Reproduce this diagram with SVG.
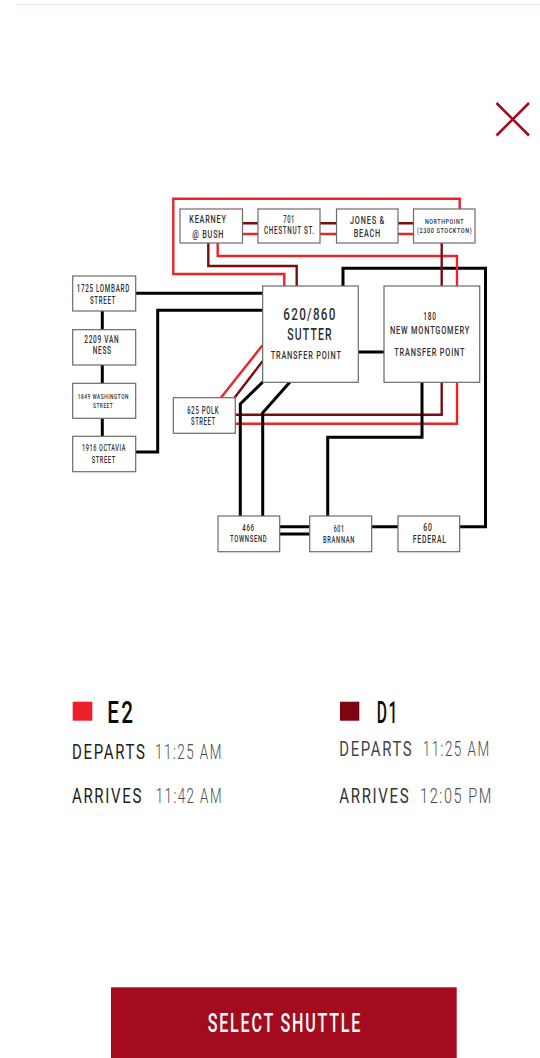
<svg xmlns="http://www.w3.org/2000/svg" width="540" height="1058" viewBox="0 0 540 1058">
<style>
text{font-family:Roboto,"Liberation Sans",sans-serif;letter-spacing:.11em}
.box{fill:#fff;stroke:#6b6b6b;stroke-width:1.2}
.n{font-weight:500;fill:#2e2e2e}
.k,.r,.d{fill:none;stroke-linejoin:miter}
.k{stroke:#000;stroke-width:3}
.r{stroke:#e8252b;stroke-width:2.4}
.d{stroke:#7a0c14;stroke-width:2.4}
.s8{font-size:8px}.s9{font-size:9.5px}.s10{font-size:10.5px}.s11{font-size:11.5px}.s16{font-size:16px}
.big{font-size:31px;font-weight:500;fill:#0a0a0a}
.lab{font-size:21px;fill:#1c1c1c}
.tim{font-size:21px;font-weight:300;fill:#4a4a4a}
</style>
<rect width="540" height="1058" fill="#fff"/>
<rect x="16" y="3.7" width="524" height="1.2" fill="#f6e2da"/>
<g id="close"><path d="M496.500 103L529 135.500M529 103L496.500 135.500" fill="none" stroke="#a50b20" stroke-width="2.600"/></g>
<g id="connectors">
<path class="k" d="M343 287V268.300H485.500V526.700H459"/>
<path class="r" d="M459.700 209V198.700H173.300V274H284.300V287"/>
<path class="d" d="M208.300 243V266H296.700V287"/>
<path class="r" d="M217.700 243V256H457V287"/>
<path class="d" d="M441.700 243V287"/>
<path class="d" d="M242 223.300H258M320 223.300H337M398 223.300H414"/>
<path class="r" d="M242 234H258M320 234H337M398 234H414"/>
<path class="k" d="M135 293.300H263"/>
<path class="k" d="M135 452H157.700V310.300H263"/>
<path class="k" d="M102.300 311V437"/>
<path class="r" d="M220.700 398L262.500 345.300"/>
<path class="d" d="M234.300 398L262.500 361.300"/>
<path class="d" d="M235 414.700H441.700V382"/>
<path class="r" d="M235 423.700H457V382"/>
<path class="k" d="M240.300 516V404L263 381.700"/>
<path class="k" d="M262.700 516V412.700L290 382"/>
<path class="k" d="M358 352H384"/>
<path class="k" d="M422 382V437.300H327.700V516"/>
<path class="k" d="M279 526.700H310M279 534H310M371 526.700H398"/>
</g>
<g id="kearney"><rect class="box" x="180" y="209" width="62.500" height="34"/><text class="n s11" x="189.300" y="223.300" textLength="37.400" lengthAdjust="spacingAndGlyphs">KEARNEY</text><text class="n s11" x="192.300" y="237.700" textLength="32" lengthAdjust="spacingAndGlyphs">@ BUSH</text></g>
<g id="chestnut"><rect class="box" x="258" y="209" width="62" height="34"/><text class="n s10" x="283.300" y="222.700" textLength="11.700" lengthAdjust="spacingAndGlyphs">701</text><text class="n s10" x="264" y="234.300" textLength="50.700" lengthAdjust="spacingAndGlyphs">CHESTNUT ST.</text></g>
<g id="jones"><rect class="box" x="336.500" y="209" width="61.500" height="34"/><text class="n s11" x="350" y="223.700" textLength="35" lengthAdjust="spacingAndGlyphs">JONES &amp;</text><text class="n s11" x="353.700" y="237.300" textLength="27.300" lengthAdjust="spacingAndGlyphs">BEACH</text></g>
<g id="northpoint"><rect class="box" x="413.500" y="209" width="61.500" height="34"/><text class="n s8" x="425" y="223.700" textLength="39" lengthAdjust="spacingAndGlyphs">NORTHPOINT</text><text class="n s8" x="417" y="233.300" textLength="55.300" lengthAdjust="spacingAndGlyphs">(2300 STOCKTON)</text></g>
<g id="lombard"><rect class="box" x="72.700" y="276" width="63" height="35"/><text class="n s10" x="76.700" y="292.300" textLength="53.300" lengthAdjust="spacingAndGlyphs">1725 LOMBARD</text><text class="n s10" x="90" y="303.700" textLength="26" lengthAdjust="spacingAndGlyphs">STREET</text></g>
<g id="vanness"><rect class="box" x="72.700" y="329.700" width="63" height="35.300"/><text class="n s10" x="84.300" y="342.700" textLength="35" lengthAdjust="spacingAndGlyphs">2209 VAN</text><text class="n s10" x="92.700" y="354.300" textLength="19" lengthAdjust="spacingAndGlyphs">NESS</text></g>
<g id="washington"><rect class="box" x="72.700" y="383.300" width="63" height="35"/><text class="n s8" x="77.700" y="398.700" textLength="51.300" lengthAdjust="spacingAndGlyphs">1849 WASHINGTON</text><text class="n s8" x="93" y="408" textLength="20.300" lengthAdjust="spacingAndGlyphs">STREET</text></g>
<g id="octavia"><rect class="box" x="72.700" y="436.300" width="63" height="35.400"/><text class="n s9" x="82" y="451.300" textLength="44" lengthAdjust="spacingAndGlyphs">1916 OCTAVIA</text><text class="n s9" x="91.700" y="462.800" textLength="24" lengthAdjust="spacingAndGlyphs">STREET</text></g>
<g id="polk"><rect class="box" x="173.300" y="397.700" width="62" height="35.600"/><text class="n s10" x="187.300" y="414" textLength="32" lengthAdjust="spacingAndGlyphs">625 POLK</text><text class="n s10" x="191" y="425.300" textLength="24.700" lengthAdjust="spacingAndGlyphs">STREET</text></g>
<g id="sutter"><rect class="box" x="262.700" y="286" width="95.600" height="96.300"/><text class="n s16" x="283.300" y="320" textLength="53.400" lengthAdjust="spacingAndGlyphs">620/860</text><text class="n" font-size="17" x="287.300" y="339.700" textLength="45.400" lengthAdjust="spacingAndGlyphs">SUTTER</text><text class="n s11" x="270.700" y="358.700" textLength="71" lengthAdjust="spacingAndGlyphs">TRANSFER POINT</text></g>
<g id="montgomery"><rect class="box" x="384" y="286" width="95.700" height="96.300"/><text class="n s11" x="423.300" y="319.700" textLength="13.400" lengthAdjust="spacingAndGlyphs">180</text><text class="n s11" x="390" y="333.700" textLength="80" lengthAdjust="spacingAndGlyphs">NEW MONTGOMERY</text><text class="n s11" x="394.300" y="356" textLength="71" lengthAdjust="spacingAndGlyphs">TRANSFER POINT</text></g>
<g id="townsend"><rect class="box" x="218" y="516" width="61.700" height="35.700"/><text class="n s9" x="242.300" y="530.700" textLength="12.400" lengthAdjust="spacingAndGlyphs">466</text><text class="n s9" x="230" y="542" textLength="37.300" lengthAdjust="spacingAndGlyphs">TOWNSEND</text></g>
<g id="brannan"><rect class="box" x="309.700" y="516" width="62" height="35.700"/><text class="n s9" x="333.700" y="532.300" textLength="11" lengthAdjust="spacingAndGlyphs">601</text><text class="n s9" x="323" y="543.300" textLength="32" lengthAdjust="spacingAndGlyphs">BRANNAN</text></g>
<g id="federal"><rect class="box" x="398" y="516" width="61.700" height="35.700"/><text class="n s11" x="423.300" y="530.700" textLength="9.400" lengthAdjust="spacingAndGlyphs">60</text><text class="n s11" x="412.700" y="543" textLength="34" lengthAdjust="spacingAndGlyphs">FEDERAL</text></g>
<g id="legend-e2">
<rect x="72.700" y="701.700" width="19.600" height="19" fill="#ed2029"/>
<text class="big" x="107.300" y="723.300" textLength="28" lengthAdjust="spacingAndGlyphs">E2</text>
<text class="lab" transform="translate(72 759.300) scale(.7 1)" textLength="106.400" lengthAdjust="spacingAndGlyphs">DEPARTS</text>
<text class="tim" transform="translate(155 759.300) scale(.7 1)" textLength="97" lengthAdjust="spacingAndGlyphs">11:25 AM</text>
<text class="lab" transform="translate(72 803.300) scale(.7 1)" textLength="101.400" lengthAdjust="spacingAndGlyphs">ARRIVES</text>
<text class="tim" transform="translate(155.700 803.300) scale(.7 1)" textLength="96" lengthAdjust="spacingAndGlyphs">11:42 AM</text>
</g>
<g id="legend-d1">
<rect x="340" y="701.700" width="19.300" height="19" fill="#7d0410"/>
<text class="big" x="376.700" y="723.300" textLength="22.500" lengthAdjust="spacingAndGlyphs">D1</text>
<text class="lab" transform="translate(339.300 756) scale(.7 1)" textLength="105.700" lengthAdjust="spacingAndGlyphs" style="fill:#444">DEPARTS</text>
<text class="tim" transform="translate(422.700 756) scale(.7 1)" textLength="97" lengthAdjust="spacingAndGlyphs">11:25 AM</text>
<text class="lab" transform="translate(339.300 803.300) scale(.7 1)" textLength="101.400" lengthAdjust="spacingAndGlyphs" style="fill:#333">ARRIVES</text>
<text class="tim" transform="translate(420 803.300) scale(.7 1)" textLength="104.300" lengthAdjust="spacingAndGlyphs">12:05 PM</text>
</g>
<g id="select-shuttle">
<rect x="111" y="987.300" width="345.700" height="70.700" fill="#a50b1e"/>
<text x="207.700" y="1031.700" font-size="25.500" font-weight="500" fill="#fff" textLength="154.500" lengthAdjust="spacingAndGlyphs">SELECT SHUTTLE</text>
</g>
</svg>
